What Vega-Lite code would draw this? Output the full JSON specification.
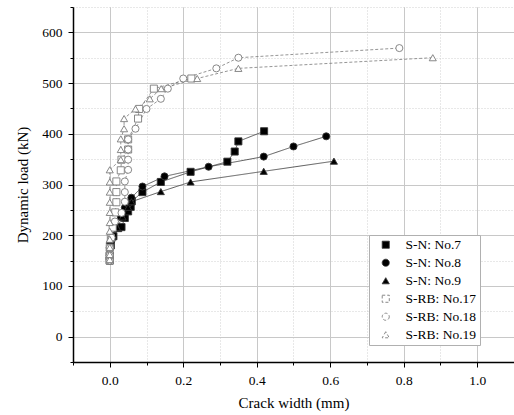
{
  "$schema": "https://vega.github.io/schema/vega-lite/v6.json",
  "width": 441,
  "height": 355,
  "autosize": {"type": "none"},
  "padding": {"left": 73, "top": 7, "right": 0, "bottom": 53},
  "background": "white",
  "config": {
    "font": "Liberation Serif",
    "view": {"stroke": null},
    "axis": {
      "labelFont": "Liberation Serif",
      "labelFontSize": 13.5,
      "labelColor": "black",
      "titleFont": "Liberation Serif",
      "titleFontSize": 15,
      "titleFontWeight": "normal",
      "titleColor": "black",
      "domainColor": "black",
      "tickColor": "black"
    },
    "legend": {
      "labelFont": "Liberation Serif",
      "labelFontSize": 13.5,
      "labelColor": "black"
    }
  },
  "data": {
    "values": [
      {"series": "S-N: No.7", "w": 0.0, "load": 150},
      {"series": "S-N: No.7", "w": 0.0, "load": 160},
      {"series": "S-N: No.7", "w": 0.003, "load": 180},
      {"series": "S-N: No.7", "w": 0.01, "load": 198},
      {"series": "S-N: No.7", "w": 0.023, "load": 214},
      {"series": "S-N: No.7", "w": 0.032, "load": 216},
      {"series": "S-N: No.7", "w": 0.041, "load": 234},
      {"series": "S-N: No.7", "w": 0.05, "load": 247},
      {"series": "S-N: No.7", "w": 0.057, "load": 256},
      {"series": "S-N: No.7", "w": 0.06, "load": 267},
      {"series": "S-N: No.7", "w": 0.089, "load": 285},
      {"series": "S-N: No.7", "w": 0.139, "load": 305},
      {"series": "S-N: No.7", "w": 0.22, "load": 325},
      {"series": "S-N: No.7", "w": 0.32, "load": 345},
      {"series": "S-N: No.7", "w": 0.34, "load": 365},
      {"series": "S-N: No.7", "w": 0.35, "load": 385},
      {"series": "S-N: No.7", "w": 0.42, "load": 405},
      {"series": "S-N: No.8", "w": 0.0, "load": 152},
      {"series": "S-N: No.8", "w": 0.0, "load": 163},
      {"series": "S-N: No.8", "w": 0.0, "load": 175},
      {"series": "S-N: No.8", "w": 0.005, "load": 190},
      {"series": "S-N: No.8", "w": 0.015, "load": 215},
      {"series": "S-N: No.8", "w": 0.03, "load": 236},
      {"series": "S-N: No.8", "w": 0.041, "load": 254},
      {"series": "S-N: No.8", "w": 0.05, "load": 262},
      {"series": "S-N: No.8", "w": 0.059, "load": 274},
      {"series": "S-N: No.8", "w": 0.089, "load": 296},
      {"series": "S-N: No.8", "w": 0.149, "load": 316},
      {"series": "S-N: No.8", "w": 0.269, "load": 335},
      {"series": "S-N: No.8", "w": 0.419, "load": 355},
      {"series": "S-N: No.8", "w": 0.5, "load": 375},
      {"series": "S-N: No.8", "w": 0.589, "load": 395},
      {"series": "S-N: No.9", "w": 0.0, "load": 155},
      {"series": "S-N: No.9", "w": 0.0, "load": 166},
      {"series": "S-N: No.9", "w": 0.0, "load": 177},
      {"series": "S-N: No.9", "w": 0.0, "load": 190},
      {"series": "S-N: No.9", "w": 0.009, "load": 198},
      {"series": "S-N: No.9", "w": 0.02, "load": 215},
      {"series": "S-N: No.9", "w": 0.035, "load": 236},
      {"series": "S-N: No.9", "w": 0.05, "load": 255},
      {"series": "S-N: No.9", "w": 0.059, "load": 266},
      {"series": "S-N: No.9", "w": 0.139, "load": 286},
      {"series": "S-N: No.9", "w": 0.22, "load": 305},
      {"series": "S-N: No.9", "w": 0.419, "load": 326},
      {"series": "S-N: No.9", "w": 0.61, "load": 346},
      {"series": "S-RB: No.17", "w": 0.0, "load": 150},
      {"series": "S-RB: No.17", "w": 0.0, "load": 160},
      {"series": "S-RB: No.17", "w": 0.0, "load": 175},
      {"series": "S-RB: No.17", "w": 0.003, "load": 195},
      {"series": "S-RB: No.17", "w": 0.008, "load": 215},
      {"series": "S-RB: No.17", "w": 0.015, "load": 245},
      {"series": "S-RB: No.17", "w": 0.018, "load": 265},
      {"series": "S-RB: No.17", "w": 0.018, "load": 285},
      {"series": "S-RB: No.17", "w": 0.018, "load": 306},
      {"series": "S-RB: No.17", "w": 0.03, "load": 328},
      {"series": "S-RB: No.17", "w": 0.032, "load": 349},
      {"series": "S-RB: No.17", "w": 0.05, "load": 369},
      {"series": "S-RB: No.17", "w": 0.05, "load": 389},
      {"series": "S-RB: No.17", "w": 0.077, "load": 430},
      {"series": "S-RB: No.17", "w": 0.08, "load": 449},
      {"series": "S-RB: No.17", "w": 0.12, "load": 489},
      {"series": "S-RB: No.17", "w": 0.222, "load": 509},
      {"series": "S-RB: No.18", "w": 0.0, "load": 150},
      {"series": "S-RB: No.18", "w": 0.0, "load": 160},
      {"series": "S-RB: No.18", "w": 0.0, "load": 175},
      {"series": "S-RB: No.18", "w": 0.005, "load": 195},
      {"series": "S-RB: No.18", "w": 0.014, "load": 227},
      {"series": "S-RB: No.18", "w": 0.032, "load": 244},
      {"series": "S-RB: No.18", "w": 0.041, "load": 266},
      {"series": "S-RB: No.18", "w": 0.041, "load": 285},
      {"series": "S-RB: No.18", "w": 0.041, "load": 306},
      {"series": "S-RB: No.18", "w": 0.05, "load": 329},
      {"series": "S-RB: No.18", "w": 0.05, "load": 349},
      {"series": "S-RB: No.18", "w": 0.05, "load": 369},
      {"series": "S-RB: No.18", "w": 0.05, "load": 389},
      {"series": "S-RB: No.18", "w": 0.07, "load": 410},
      {"series": "S-RB: No.18", "w": 0.1, "load": 449},
      {"series": "S-RB: No.18", "w": 0.139, "load": 469},
      {"series": "S-RB: No.18", "w": 0.158, "load": 489},
      {"series": "S-RB: No.18", "w": 0.2, "load": 509},
      {"series": "S-RB: No.18", "w": 0.29, "load": 529},
      {"series": "S-RB: No.18", "w": 0.35, "load": 550},
      {"series": "S-RB: No.18", "w": 0.788, "load": 569},
      {"series": "S-RB: No.19", "w": 0.0, "load": 152},
      {"series": "S-RB: No.19", "w": 0.0, "load": 162},
      {"series": "S-RB: No.19", "w": 0.0, "load": 176},
      {"series": "S-RB: No.19", "w": 0.0, "load": 192},
      {"series": "S-RB: No.19", "w": 0.0, "load": 208},
      {"series": "S-RB: No.19", "w": 0.0, "load": 225},
      {"series": "S-RB: No.19", "w": 0.0, "load": 245},
      {"series": "S-RB: No.19", "w": 0.0, "load": 265},
      {"series": "S-RB: No.19", "w": 0.0, "load": 285},
      {"series": "S-RB: No.19", "w": 0.0, "load": 305},
      {"series": "S-RB: No.19", "w": 0.0, "load": 329},
      {"series": "S-RB: No.19", "w": 0.03, "load": 349},
      {"series": "S-RB: No.19", "w": 0.03, "load": 369},
      {"series": "S-RB: No.19", "w": 0.03, "load": 390},
      {"series": "S-RB: No.19", "w": 0.039, "load": 410},
      {"series": "S-RB: No.19", "w": 0.039, "load": 430},
      {"series": "S-RB: No.19", "w": 0.07, "load": 449},
      {"series": "S-RB: No.19", "w": 0.109, "load": 469},
      {"series": "S-RB: No.19", "w": 0.14, "load": 489},
      {"series": "S-RB: No.19", "w": 0.238, "load": 509},
      {"series": "S-RB: No.19", "w": 0.35, "load": 529},
      {"series": "S-RB: No.19", "w": 0.879, "load": 550}
    ]
  },
  "layer": [
    {
      "mark": {"type": "line", "strokeWidth": 0.8},
      "encoding": {
        "x": {
          "field": "w", "type": "quantitative",
          "scale": {"domain": [-0.1, 1.1], "nice": false, "zero": false},
          "axis": {
            "orient": "bottom",
            "values": [-0.1, 0, 0.1, 0.2, 0.3, 0.4, 0.5, 0.6, 0.7, 0.8, 0.9, 1.0, 1.1],
            "grid": true, "gridDash": [1, 2], "gridColor": "#c4c4c4", "gridWidth": 0.8,
            "ticks": true, "tickSize": 3, "tickWidth": 1,
            "labels": false, "domain": false, "title": null
          }
        },
        "y": {
          "field": "load", "type": "quantitative",
          "scale": {"domain": [-50, 650], "nice": false, "zero": false},
          "axis": {
            "orient": "left",
            "values": [-50, 0, 50, 100, 150, 200, 250, 300, 350, 400, 450, 500, 550, 600, 650],
            "grid": true, "gridDash": [1, 2], "gridColor": "#c4c4c4", "gridWidth": 0.8,
            "ticks": true, "tickSize": 3, "tickWidth": 1,
            "labels": false, "domain": false, "title": null
          }
        },
        "stroke": {
          "field": "series", "type": "nominal",
          "scale": {
            "domain": ["S-N: No.7", "S-N: No.8", "S-N: No.9", "S-RB: No.17", "S-RB: No.18", "S-RB: No.19"],
            "range": ["#333333", "#333333", "#333333", "#7a7a7a", "#7a7a7a", "#7a7a7a"]
          },
          "legend": {
            "orient": "none", "legendX": 296, "legendY": 228, "zindex": 1,
            "title": null,
            "strokeColor": "#b0b0b0", "fillColor": "white", "padding": 3,
            "rowPadding": 3, "symbolSize": 50,
            "symbolOffset": 7, "labelOffset": 13, "symbolStrokeWidth": 0.9,
            "symbolFillColor": "white", "symbolStrokeColor": "black",
            "labelFont": "Liberation Serif", "labelFontSize": 13.5, "labelColor": "black"
          }
        },
        "strokeDash": {
          "field": "series", "type": "nominal",
          "scale": {
            "domain": ["S-N: No.7", "S-N: No.8", "S-N: No.9", "S-RB: No.17", "S-RB: No.18", "S-RB: No.19"],
            "range": [[1, 0], [1, 0], [1, 0], [3, 2], [3, 2], [3, 2]]
          },
          "legend": null
        },
        "order": {"field": "load", "type": "quantitative"}
      }
    },
    {
      "mark": {"type": "point", "opacity": 1, "strokeWidth": 0.9, "size": 50},
      "encoding": {
        "x": {
          "field": "w", "type": "quantitative",
          "axis": {
            "orient": "bottom",
            "values": [0, 0.2, 0.4, 0.6, 0.8, 1.0],
            "format": ".1f",
            "grid": true, "gridColor": "#c8c8c8", "gridWidth": 1,
            "tickSize": 5, "tickWidth": 1, "labelPadding": 6,
            "domain": true, "domainWidth": 1.5,
            "title": "Crack width (mm)", "titlePadding": 9
          }
        },
        "y": {
          "field": "load", "type": "quantitative",
          "axis": {
            "orient": "left",
            "values": [0, 100, 200, 300, 400, 500, 600],
            "grid": true, "gridColor": "#c8c8c8", "gridWidth": 1,
            "tickSize": 5, "tickWidth": 1, "labelPadding": 6,
            "domain": true, "domainWidth": 1.5,
            "title": "Dynamic load (kN)", "titlePadding": 11
          }
        },
        "shape": {
          "field": "series", "type": "nominal",
          "scale": {
            "domain": ["S-N: No.7", "S-N: No.8", "S-N: No.9", "S-RB: No.17", "S-RB: No.18", "S-RB: No.19"],
            "range": ["square", "circle", "triangle-up", "square", "circle", "triangle-up"]
          },
          "legend": {
            "orient": "none", "legendX": 296, "legendY": 228, "zindex": 1,
            "title": null,
            "strokeColor": "#b0b0b0", "fillColor": "white", "padding": 3,
            "rowPadding": 3, "symbolSize": 50,
            "symbolOffset": 7, "labelOffset": 13, "symbolStrokeWidth": 0.9,
            "symbolFillColor": "white", "symbolStrokeColor": "black",
            "labelFont": "Liberation Serif", "labelFontSize": 13.5, "labelColor": "black"
          }
        },
        "fill": {
          "field": "series", "type": "nominal",
          "scale": {
            "domain": ["S-N: No.7", "S-N: No.8", "S-N: No.9", "S-RB: No.17", "S-RB: No.18", "S-RB: No.19"],
            "range": ["#000000", "#000000", "#000000", "#ffffff", "#ffffff", "#ffffff"]
          },
          "legend": {
            "orient": "none", "legendX": 296, "legendY": 228, "zindex": 1,
            "title": null,
            "strokeColor": "#b0b0b0", "fillColor": "white", "padding": 3,
            "rowPadding": 3, "symbolSize": 50,
            "symbolOffset": 7, "labelOffset": 13, "symbolStrokeWidth": 0.9,
            "symbolFillColor": "white", "symbolStrokeColor": "black",
            "labelFont": "Liberation Serif", "labelFontSize": 13.5, "labelColor": "black"
          }
        },
        "stroke": {
          "field": "series", "type": "nominal",
          "legend": {
            "orient": "none", "legendX": 296, "legendY": 228, "zindex": 1,
            "title": null,
            "strokeColor": "#b0b0b0", "fillColor": "white", "padding": 3,
            "rowPadding": 3, "symbolSize": 50,
            "symbolOffset": 7, "labelOffset": 13, "symbolStrokeWidth": 0.9,
            "symbolFillColor": "white", "symbolStrokeColor": "black",
            "labelFont": "Liberation Serif", "labelFontSize": 13.5, "labelColor": "black"
          }
        }
      }
    }
  ],
  "resolve": {
    "axis": {"x": "independent", "y": "independent"}
  }
}
